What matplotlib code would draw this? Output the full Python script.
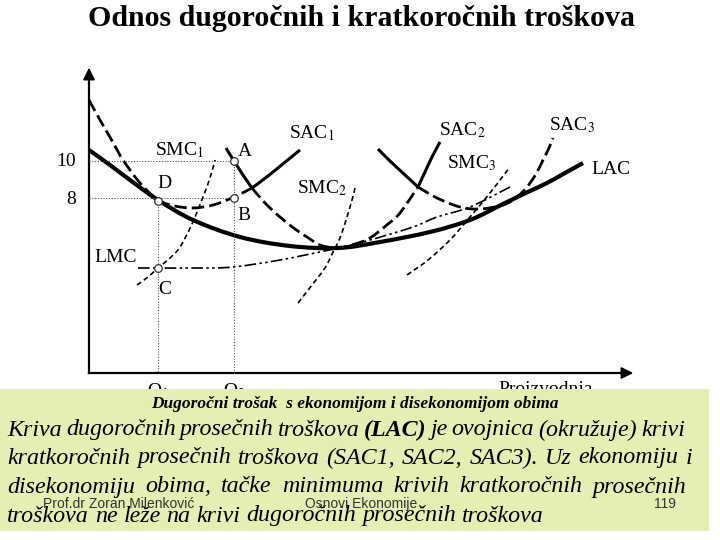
import matplotlib
matplotlib.use('Agg')
import matplotlib.pyplot as plt
from matplotlib.patches import Rectangle, PathPatch
from matplotlib.path import Path

plt.rcParams['font.family'] = ['Liberation Serif', 'DejaVu Serif']
plt.rcParams['mathtext.fontset'] = 'stix'

# tacke krivih, ocitane sa slike (x, y u pikselima slike)
lac_x = [89, 110, 130, 158, 193, 240, 290, 338, 380, 430, 470, 503, 530, 547, 565, 583]
lac_y = [150, 165, 180, 200, 220, 237, 246, 248, 242, 232, 220, 204, 191, 183, 173, 163]

sac1_dash_x = [89, 100, 107, 115, 123, 140, 158, 175, 193, 213, 234, 252]
sac1_dash_y = [100, 120, 132, 146, 160, 183, 200, 206, 208, 205, 197, 188]
sac1_solid_x = [252, 268, 284, 300]
sac1_solid_y = [188, 176, 163, 150]

sac2_solid1_x = [226, 234, 243, 252]
sac2_solid1_y = [148, 161, 175, 188]
sac2_dash_x = [252, 265, 280, 295, 307, 320, 338, 355, 370, 388, 400, 418]
sac2_dash_y = [188, 203, 217, 229, 237, 245, 248, 244, 238, 224, 213, 187]
sac2_solid2_x = [418, 425, 432, 440]
sac2_solid2_y = [187, 172, 157, 142]

sac3_solid_x = [378, 390, 404, 418]
sac3_solid_y = [149, 161, 174, 187]
sac3_dash_x = [418, 437, 460, 480, 503, 517, 527, 536, 543, 549, 553]
sac3_dash_y = [187, 198, 207, 209, 205, 197, 187, 174, 160, 148, 138]

smc1_x = [137, 148, 158, 170, 180, 192, 203, 210, 215]
smc1_y = [285, 277, 268, 258, 247, 224, 197, 178, 160]
smc2_x = [298, 312, 325, 333, 340, 347, 352, 355]
smc2_y = [303, 285, 268, 252, 238, 217, 200, 188]
smc3_x = [407, 428, 450, 470, 490, 500, 510]
smc3_y = [275, 260, 240, 217, 193, 180, 167]
lmc_x = [138, 158, 200, 233, 280, 338, 370, 413, 437, 470, 510]
lmc_y = [268, 268, 268, 267, 260, 248, 240, 227, 217, 207, 187]

# karakteristicne tacke
pt_names = ['A', 'B', 'D', 'C']
pt_x = [234, 234, 158, 158]
pt_y = [161, 198, 201, 268]
pt_lab_x = [245, 244, 164, 165]
pt_lab_y = [152, 215, 183, 289]

curve_labels = [r'SMC$_1$', r'SAC$_1$', r'SMC$_2$', r'SAC$_2$', r'SMC$_3$', r'SAC$_3$', 'LAC', 'LMC']
curve_lab_x = [155, 289, 297, 439, 447, 549, 591, 94]
curve_lab_y = [150, 133, 188, 130, 163, 125, 170, 257]

tick_vals = ['10', '8']
tick_y = [161, 199]

title = 'Odnos dugoročnih i kratkoročnih troškova'
box_head = 'Dugoročni trošak  s ekonomijom i disekonomijom obima'
box_lines = [
    'Kriva dugoročnih prosečnih troškova (LAC) je ovojnica (okružuje) krivi',
    'kratkoročnih prosečnih troškova (SAC1, SAC2, SAC3). Uz  ekonomiju i',
    'disekonomiju obima, tačke minimuma krivih kratkoročnih prosečnih',
    'troškova ne leže na krivi dugoročnih prosečnih troškova',
]
box_line_y = [430, 458, 487, 516]
box_line_right = [685, 692, 686, None]
bold_words = ['(LAC)']

fig = plt.figure(figsize=(7.2, 5.4), dpi=100)
ax = fig.add_axes([0, 0, 1, 1])
ax.set_xlim(0, 720)
ax.set_ylim(540, 0)
ax.axis('off')


def curve(xs, ys, **kw):
    # glatka kriva kroz ocitane tacke (Catmull-Rom kao kubni Bezier)
    pts = list(zip(xs, ys))
    verts = [pts[0]]
    codes = [Path.MOVETO]
    for i in range(len(pts) - 1):
        p0 = pts[i - 1] if i > 0 else pts[i]
        p1 = pts[i]
        p2 = pts[i + 1]
        p3 = pts[i + 2] if i + 2 < len(pts) else pts[i + 1]
        c1 = (p1[0] + (p2[0] - p0[0]) / 6, p1[1] + (p2[1] - p0[1]) / 6)
        c2 = (p2[0] - (p3[0] - p1[0]) / 6, p2[1] - (p3[1] - p1[1]) / 6)
        verts += [c1, c2, p2]
        codes += [Path.CURVE4] * 3
    ax.add_patch(PathPatch(Path(verts, codes), facecolor='none', edgecolor='black',
                           capstyle='butt', joinstyle='round', **kw))


# ose
ax.plot([89, 89], [373, 75], color='black', lw=1.6)
ax.plot([89, 625], [373, 373], color='black', lw=1.6)
ax.annotate('', xy=(89, 65), xytext=(89, 80),
            arrowprops=dict(arrowstyle='-|>', color='black', lw=1.2, mutation_scale=18))
ax.annotate('', xy=(636, 373), xytext=(620, 373),
            arrowprops=dict(arrowstyle='-|>', color='black', lw=1.2, mutation_scale=18))

# pomocne tackaste linije
dot = dict(color='#555555', lw=0.8, linestyle=(0, (1, 1.5)))
ax.plot([89, pt_x[0]], [pt_y[0], pt_y[0]], **dot)
ax.plot([89, pt_x[1]], [pt_y[1], pt_y[1]], **dot)
ax.plot([pt_x[2], pt_x[2]], [pt_y[2], 373], **dot)
ax.plot([pt_x[0], pt_x[0]], [pt_y[0], 373], **dot)

dash_big = (0, (4.5, 1.8))
curve(sac1_dash_x, sac1_dash_y, lw=2.0, linestyle=dash_big)
curve(sac1_solid_x, sac1_solid_y, lw=2.2)
curve(sac2_solid1_x, sac2_solid1_y, lw=2.2)
curve(sac2_dash_x, sac2_dash_y, lw=2.0, linestyle=dash_big)
curve(sac2_solid2_x, sac2_solid2_y, lw=2.2)
curve(sac3_solid_x, sac3_solid_y, lw=2.2)
curve(sac3_dash_x, sac3_dash_y, lw=2.0, linestyle=dash_big)

thin_dash = (0, (3, 2))
curve(smc1_x, smc1_y, lw=1.2, linestyle=thin_dash)
curve(smc2_x, smc2_y, lw=1.2, linestyle=thin_dash)
curve(smc3_x, smc3_y, lw=1.2, linestyle=thin_dash)
curve(lmc_x, lmc_y, lw=1.2, linestyle=(0, (7, 2, 1.5, 2, 1.5, 2)))

curve(lac_x, lac_y, lw=3.0)

ax.plot(pt_x, pt_y, 'o', ms=5.5, mfc='white', mec='#333333', mew=0.9, zorder=5)
for n, lx, ly in zip(pt_names, pt_lab_x, pt_lab_y):
    ax.text(lx, ly, n, fontsize=14, ha='center', va='center')
for lab, lx, ly in zip(curve_labels, curve_lab_x, curve_lab_y):
    ax.text(lx, ly, lab, fontsize=14, ha='left', va='center')
for t, ty in zip(tick_vals, tick_y):
    ax.text(76, ty, t, fontsize=14, ha='right', va='center')

# oznake ispod x-ose (delimicno pokrivene okvirom)
ax.text(158, 381, r'Q$_1$', fontsize=14, ha='center', va='top')
ax.text(234, 381, r'Q$_2$', fontsize=14, ha='center', va='top')
ax.text(498, 381, 'Proizvodnja', fontsize=14, ha='left', va='top')

ax.text(361, 18, title, fontsize=21.5, fontweight='bold', ha='center', va='center')

# okvir sa tekstom
ax.add_patch(Rectangle((0, 389), 709, 142, facecolor='#e4efb3', edgecolor='none', zorder=10))
ax.text(355, 404, box_head, fontsize=12.5, fontweight='bold', fontstyle='italic',
        ha='center', va='center', zorder=11)

fig.canvas.draw()
renderer = fig.canvas.get_renderer()
inv = ax.transData.inverted()


def text_width(s, **kw):
    t = ax.text(0, 0, s, **kw)
    bb = t.get_window_extent(renderer)
    t.remove()
    x0 = inv.transform((bb.x0, 0))[0]
    x1 = inv.transform((bb.x1, 0))[0]
    return x1 - x0


main_kw = dict(fontsize=17.3, fontstyle='italic')
left = 7
for line, ly, right in zip(box_lines, box_line_y, box_line_right):
    words = line.split()
    weights = ['bold' if w in bold_words else 'normal' for w in words]
    widths = [text_width(w, fontweight=wt, **main_kw) for w, wt in zip(words, weights)]
    if right is None:
        gap = text_width('a b', **main_kw) - text_width('ab', **main_kw)
    else:
        gap = (right - left - sum(widths)) / (len(words) - 1)
    x = left
    for w, wt, wd in zip(words, weights, widths):
        ax.text(x, ly, w, ha='left', va='center', zorder=11, fontweight=wt, **main_kw)
        x += wd + gap

foot_kw = dict(fontsize=10, family=['Liberation Sans', 'DejaVu Sans'], color='#333333',
               va='center', zorder=12)
ax.text(43, 504, 'Prof.dr Zoran Milenković', ha='left', **foot_kw)
ax.text(305, 504, 'Osnovi Ekonomije', ha='left', **foot_kw)
ax.text(676, 504, '119', ha='right', **foot_kw)

fig.savefig('out.png', dpi=100)
